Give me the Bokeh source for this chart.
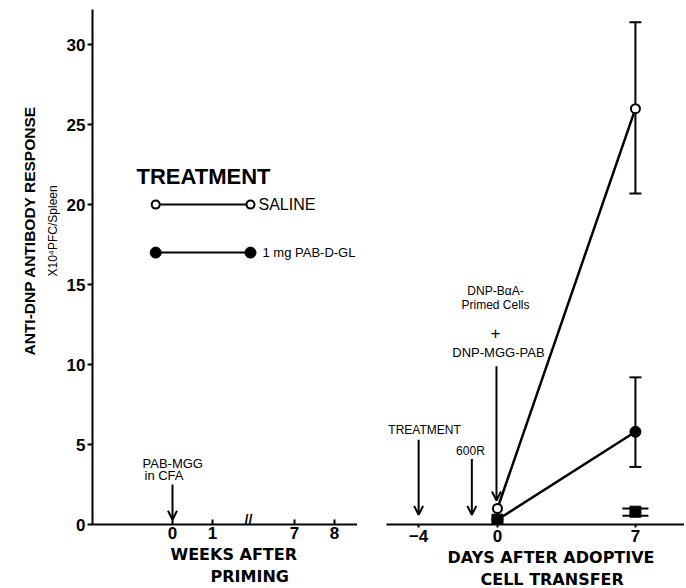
from bokeh.plotting import figure
from bokeh.layouts import row
from bokeh.models import (Range1d, FixedTicker, Label, Arrow, OpenHead, Whisker,
                          TeeHead, ColumnDataSource, Title)
from bokeh.embed import file_html
from bokeh.resources import INLINE

# ---------------- data ----------------
y_ticks = [0, 5, 10, 15, 20, 25, 30]

week_ticks = [0, 1, 7, 8]
week_labels = ["0", "1", "7", "8"]
week_break_at = 1.9          # where the "//" axis break sits
week_break_gap = 3.95        # weeks removed by the axis break

day_ticks = [-4, 0, 7]
day_labels = ["\u22124", "0", "7"]

days = [0, 7]
saline = [1.0, 26.0]
pab_dgl = [0.3, 5.8]
control_days = [0, 7]
control = [0.3, 0.8]

err_days = [7]
saline_lo, saline_hi = [20.7], [31.4]
pab_lo, pab_hi = [3.6], [9.2]
control_lo, control_hi = [0.55], [1.0]

legend_weeks = [-0.42, 1.95]
legend_saline_y = 20
legend_pab_y = 17

priming_week = 0
treatment_day = -4
irradiation_day = -1.3
transfer_day = 0

FONT = "Liberation Sans"
AXFONT = "DejaVu Sans"


def week_pos(w):
    return w if w < 2 else w - week_break_gap


def style_axis(ax, ticks, labels, tick_in, tick_out):
    ax.ticker = FixedTicker(ticks=ticks)
    ax.major_label_overrides = {t: l for t, l in zip(ticks, labels)}
    ax.major_label_text_font = FONT
    ax.major_label_text_font_size = "17px"
    ax.major_label_text_font_style = "bold"
    ax.major_label_text_color = "black"
    ax.major_label_standoff = 2
    ax.axis_line_width = 2
    ax.axis_line_color = "black"
    ax.major_tick_line_width = 2
    ax.major_tick_line_color = "black"
    ax.major_tick_in = tick_in
    ax.major_tick_out = tick_out
    ax.minor_tick_line_color = None


def lab(p, x, y, text, size, style="normal", align="center", font=FONT):
    p.add_layout(Label(x=x, y=y, text=text,
                       text_font=font, text_font_size=size,
                       text_font_style=style, text_align=align,
                       text_baseline="middle", text_color="black"))


def side_title(p, side, text, size, offset, standoff=0, font=AXFONT, style="bold"):
    p.add_layout(Title(text=text, align="left", offset=offset, standoff=standoff,
                       text_font=font, text_font_size=size, text_font_style=style,
                       text_color="black"), side)


def arrow(p, x, y0, y1):
    p.add_layout(Arrow(end=OpenHead(size=9, line_width=2, line_color="black"),
                       x_start=x, y_start=y0, x_end=x, y_end=y1,
                       line_width=2, line_color="black"))


H = 588
yr = Range1d(0, 32.2)

# ---------------- left panel ----------------
left = figure(width=357, height=H, x_range=Range1d(-2.0, 4.625), y_range=yr,
              output_backend="svg", toolbar_location=None,
              min_border_left=92, min_border_right=0, min_border_top=9,
              min_border_bottom=64)
left.outline_line_color = None
left.grid.grid_line_color = None
style_axis(left.xaxis[0], [week_pos(w) for w in week_ticks], week_labels, 5, 0)
style_axis(left.yaxis[0], y_ticks, [str(t) for t in y_ticks], 0, 5)

# legend drawn inside the panel
left.line(legend_weeks, [legend_saline_y] * 2, line_width=2, color="black")
left.line(legend_weeks, [legend_pab_y] * 2, line_width=2, color="black")
left.scatter(legend_weeks, [legend_saline_y] * 2, marker="circle", size=8,
             fill_color="white", line_color="black", line_width=2)
left.scatter(legend_weeks, [legend_pab_y] * 2, marker="circle", size=11,
             fill_color="black", line_color="black")
lab(left, -0.9, 21.75, "TREATMENT", "22px", "bold", "left")
lab(left, 2.15, legend_saline_y, "SALINE", "16px", "normal", "left")
lab(left, 2.25, legend_pab_y, "1 mg PAB-D-GL", "13px", "normal", "left")

lab(left, -0.75, 3.8, "PAB-MGG", "13px", "normal", "left")
lab(left, -0.7, 3.05, "in CFA", "13px", "normal", "left")
arrow(left, week_pos(priming_week), 2.5, 0.3)
lab(left, week_break_at, 0.3, "//", "14px", "bold", "center")

side_title(left, "below", "WEEKS AFTER", "16px", 78, standoff=2)
side_title(left, "below", "PRIMING", "16px", 118)
side_title(left, "left", "X10\u2074PFC/Spleen", "12px", 248, standoff=8,
           font=FONT, style="normal")
side_title(left, "left", "ANTI-DNP ANTIBODY RESPONSE", "15.5px", 169, standoff=3,
           font=FONT)

# ---------------- right panel ----------------
right = figure(width=327, height=H, x_range=Range1d(-5.63, 9.49), y_range=yr,
               output_backend="svg", toolbar_location=None, y_axis_location=None,
               min_border_left=29, min_border_right=0, min_border_top=9,
               min_border_bottom=64)
right.outline_line_color = None
right.grid.grid_line_color = None
style_axis(right.xaxis[0], day_ticks, day_labels, 0, 3)

for lo, hi, sz in ((saline_lo, saline_hi, 12), (pab_lo, pab_hi, 12),
                   (control_lo, control_hi, 26)):
    src = ColumnDataSource(dict(x=err_days, lo=lo, hi=hi))
    w = Whisker(source=src, base="x", lower="lo", upper="hi", dimension="height",
                line_width=2, line_color="black", level="underlay",
                upper_head=TeeHead(size=sz, line_width=2, line_color="black"),
                lower_head=TeeHead(size=sz, line_width=2, line_color="black"))
    right.add_layout(w)

right.line(days, saline, line_width=2.5, color="black")
right.line(days, pab_dgl, line_width=2.5, color="black")
right.scatter(control_days, control, marker="square", size=11,
              fill_color="black", line_color="black")
right.scatter(days, pab_dgl, marker="circle", size=11,
              fill_color="black", line_color="black")
right.scatter(days, saline, marker="circle", size=9,
              fill_color="white", line_color="black", line_width=2)

lab(right, -3.7, 5.9, "TREATMENT", "12px", "normal")
arrow(right, treatment_day, 5.3, 0.6)
lab(right, -1.37, 4.6, "600R", "12px", "normal")
arrow(right, irradiation_day, 4.1, 0.6)
lab(right, -0.1, 14.6, "DNP-B\u03b1A-", "12px", "normal")
lab(right, -0.1, 13.7, "Primed Cells", "12px", "normal")
lab(right, -0.1, 12.0, "+", "17px", "normal")
lab(right, 0.05, 10.75, "DNP-MGG-PAB", "13px", "normal")
arrow(right, transfer_day - 0.05, 9.9, 1.5)

side_title(right, "below", "DAYS AFTER ADOPTIVE", "16px", 61, standoff=2)
side_title(right, "below", "CELL TRANSFER", "16px", 94)

layout = row(left, right, spacing=0)
open("out.html", "w").write(file_html(layout, INLINE))
